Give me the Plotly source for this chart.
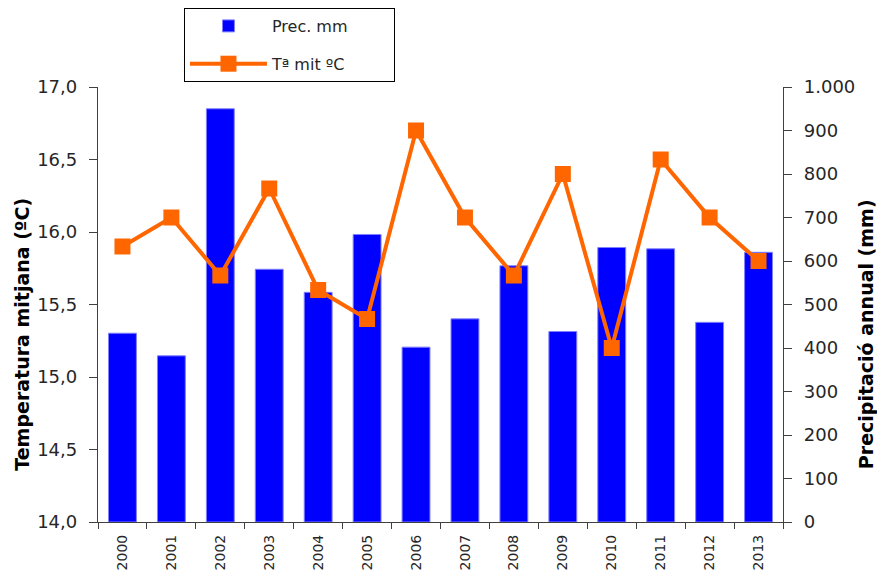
import plotly.graph_objects as go

years = ["2000", "2001", "2002", "2003", "2004", "2005", "2006",
         "2007", "2008", "2009", "2010", "2011", "2012", "2013"]
precip = [434, 382, 950, 581, 528, 661, 402, 467, 589, 438, 631, 628, 459, 620]
temp = [15.9, 16.1, 15.7, 16.3, 15.6, 15.4, 16.7, 16.1, 15.7, 16.4, 15.2, 16.5, 16.1, 15.8]

font_family = "DejaVu Sans, Open Sans, sans-serif"
pad = "\u00a0" * 8
title_pad = "\u00a0" * 9

fig = go.Figure()
fig.add_trace(go.Bar(
    x=years, y=precip, name="Prec. mm" + pad, yaxis="y",
    legendgroup="a",
    marker=dict(color="#0000FF", line=dict(color="#8080FF", width=1)),
))
fig.add_trace(go.Scatter(
    x=years, y=temp, name="Tª mit ºC" + pad, yaxis="y2",
    legendgroup="b",
    mode="lines+markers",
    line=dict(color="#FF6600", width=4),
    marker=dict(symbol="square", size=16, color="#FF6600"),
))

axis_common = dict(
    showline=True, linecolor="#404040", linewidth=1.3,
    ticks="outside", tickcolor="#404040",
    showgrid=False, zeroline=False,
)

# the page body adds an 8px offset, so the figure is 8px smaller
fig.update_layout(
    width=877, height=568,
    margin=dict(l=90, r=102, t=79, b=54, autoexpand=False),
    plot_bgcolor="white", paper_bgcolor="white",
    separators=",.",
    font=dict(family=font_family, color="#262626"),
    bargap=0.43,
    showlegend=True,
    legend=dict(
        x=0.1255, y=1.1816, xanchor="left", yanchor="top",
        bordercolor="#000000", borderwidth=1, bgcolor="white",
        font=dict(size=16, family=font_family, color="#262626"),
        traceorder="grouped", tracegroupgap=14,
        itemwidth=77,
    ),
    xaxis=dict(
        **axis_common,
        ticklen=6,
        type="category", tickson="boundaries", tickangle=-90,
        range=[-0.5, 13.5],
        tickfont=dict(size=14, color="#262626"),
        ticklabelstandoff=6,
    ),
    # precipitation axis (right side)
    yaxis=dict(
        **axis_common,
        ticklen=8,
        side="right",
        range=[0, 1000], dtick=100, tickformat=",d",
        tickfont=dict(size=18, color="#262626"),
        ticklabelstandoff=8,
        title=dict(text="<b>Precipitació annual (mm)" + title_pad + "</b>",
                   font=dict(size=19, color="#000000"), standoff=5),
    ),
    # temperature axis (left side), drawn on top
    yaxis2=dict(
        **axis_common,
        ticklen=8,
        overlaying="y", side="left",
        range=[14, 17], dtick=0.5, tickformat=".1f",
        tickfont=dict(size=18, color="#262626"),
        ticklabelstandoff=8,
        title=dict(text="<b>Temperatura mitjana (ºC)" + title_pad + "</b>",
                   font=dict(size=19, color="#000000"), standoff=2),
    ),
)

fig.write_html("out.html")
